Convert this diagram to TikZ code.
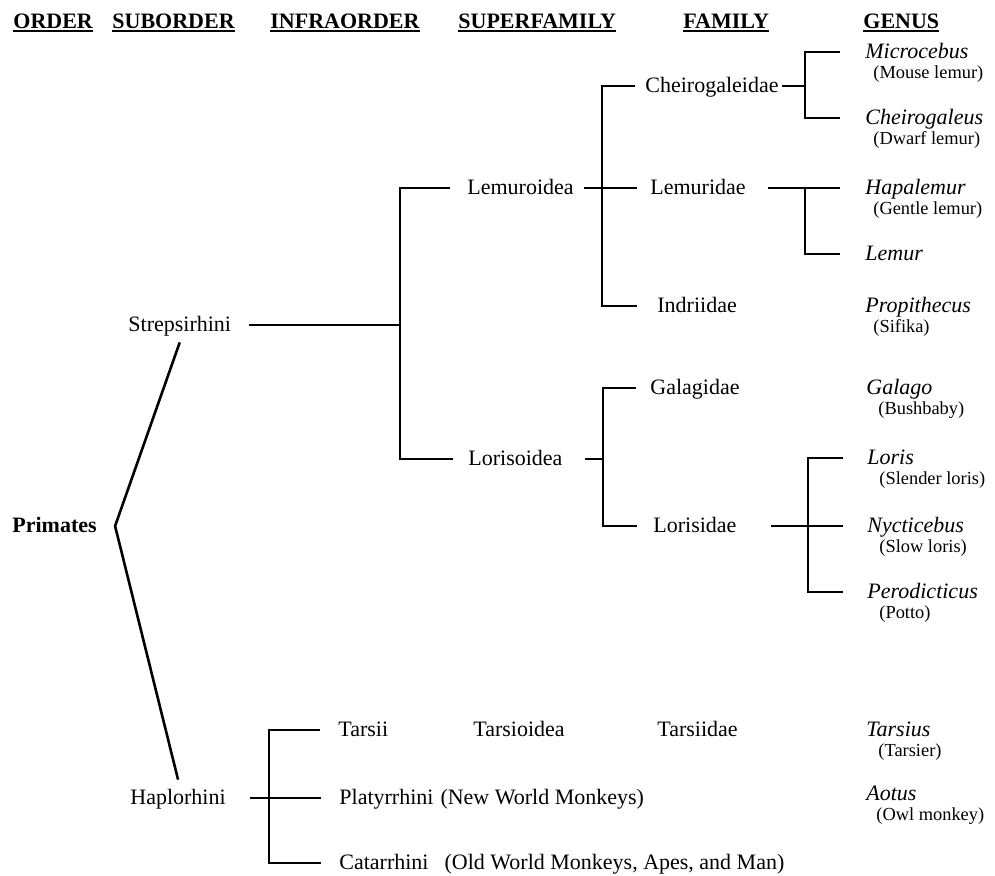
\documentclass[tikz,border=0pt]{standalone}
\usepackage{fontspec}
\setmainfont{Liberation Serif}
\usetikzlibrary{positioning}
\newcommand{\headul}[1]{\setbox0\hbox{#1}\rlap{\rule[-2pt]{\wd0}{0.9pt}}\box0}

\begin{document}
\begin{tikzpicture}[
  x=0.5pt, y=-0.5pt,
  head/.style={anchor=base west, inner sep=0pt, font=\fontsize{11}{13}\selectfont\bfseries},
  taxon/.style={anchor=west, inner sep=0pt, text height=8pt, text depth=2pt,
                font=\fontsize{11}{13}\selectfont},
  rootlbl/.style={taxon, font=\fontsize{11}{13}\selectfont\bfseries},
  genus/.style={taxon, font=\fontsize{11}{13}\selectfont\itshape},
  common/.style={inner sep=0pt, text height=6.8pt, text depth=2pt,
                 font=\fontsize{9.2}{11}\selectfont},
  branch/.style={line width=1pt},
  root/.style={line width=1.3pt, line join=round}
]
\useasboundingbox (0,0) rectangle (995,875);

% Column heads
\node[head] (hOrder) at (13,28) {\headul{ORDER}};
\node[head] (hSub) at (112,28) {\headul{SUBORDER}};
\node[head] (hInfra) at (270,28) {\headul{INFRAORDER}};
\node[head] (hSuper) at (458,28) {\headul{SUPERFAMILY}};
\node[head] (hFam) at (683,28) {\headul{FAMILY}};
\node[head] (hGenus) at (863,28) {\headul{GENUS}};

% Order, suborders, infraorders
\node[rootlbl] (primates) at (12,526) {Primates};
\node[taxon] (strep) at (128,325) {Strepsirhini};
\node[taxon] (haplo) at (130,798) {Haplorhini};
\node[taxon] (tarsii) at (338,730) {Tarsii};
\node[taxon] (platy) at (339,798) {Platyrrhini\hspace{3.5pt}(New World Monkeys)};
\node[taxon] (catar) at (339,863) {Catarrhini\hspace{8pt}(Old World Monkeys, Apes, and Man)};

% Superfamilies
\node[taxon] (lemuro) at (467,188) {Lemuroidea};
\node[taxon] (loriso) at (468,459) {Lorisoidea};
\node[taxon] (tarsioid) at (473,730) {Tarsioidea};

% Families
\node[taxon] (cheiro) at (645,86) {Cheirogaleidae};
\node[taxon] (lemurid) at (650,188) {Lemuridae};
\node[taxon] (indri) at (657,306) {Indriidae};
\node[taxon] (galagid) at (650,388) {Galagidae};
\node[taxon] (lorisid) at (653,526) {Lorisidae};
\node[taxon] (tarsiid) at (657,730) {Tarsiidae};

% Genera
\node[genus] (microc) at (865,52) {Microcebus};
\node[common, below right=1pt and 4pt of microc.south west] (cMicroc) {(Mouse lemur)};
\node[genus] (cheirog) at (865,118) {Cheirogaleus};
\node[common, below right=1pt and 4pt of cheirog.south west] (cCheirog) {(Dwarf lemur)};
\node[genus] (hapal) at (865,188) {Hapalemur};
\node[common, below right=1pt and 4pt of hapal.south west] (cHapal) {(Gentle lemur)};
\node[genus] (lemur) at (865,254) {Lemur};
\node[genus] (propith) at (865,306) {Propithecus};
\node[common, below right=1pt and 4pt of propith.south west] (cPropith) {(Sifika)};
\node[genus] (galago) at (866,388) {Galago};
\node[common, below right=1pt and 6pt of galago.south west] (cGalago) {(Bushbaby)};
\node[genus] (loris) at (867,458) {Loris};
\node[common, below right=1pt and 6pt of loris.south west] (cLoris) {(Slender loris)};
\node[genus] (nyct) at (867,526) {Nycticebus};
\node[common, below right=1pt and 6pt of nyct.south west] (cNyct) {(Slow loris)};
\node[genus] (perod) at (867,592) {Perodicticus};
\node[common, below right=1pt and 6pt of perod.south west] (cPerod) {(Potto)};
\node[genus] (tarsius) at (866,730) {Tarsius};
\node[common, below right=1pt and 6pt of tarsius.south west] (cTarsius) {(Tarsier)};
\node[genus] (aotus) at (866,794) {Aotus};
\node[common, below right=1pt and 5pt of aotus.south west] (cAotus) {(Owl monkey)};

% Branch points
\coordinate (apex) at ([xshift=9pt]primates.east);
\coordinate (bStrep) at (400,325);
\coordinate (bHaplo) at (269,798);
\coordinate (bLemuro) at (602,188);
\coordinate (bLoriso) at (603,459);
\coordinate (bCheiro) at (805,86);
\coordinate (bLemurid) at (805,188);
\coordinate (bLorisid) at (808,526);

% Primates
\draw[root] ([yshift=-3.5pt]strep.south) -- (apex) -- ([yshift=4pt]haplo.north);

% Strepsirhini
\draw[branch] ([xshift=9pt]strep.east) -- (bStrep);
\draw[branch] ([xshift=-8.5pt]lemuro.west) -| (bStrep) |- ([xshift=-7.5pt]loriso.west);

% Lemuroidea
\draw[branch] ([xshift=-5pt]cheiro.west) -| (bLemuro) |- ([xshift=-10pt]indri.west);
\draw[branch] ([xshift=5pt]lemuro.east) -- ([xshift=-6.5pt]lemurid.west);

% Lorisoidea
\draw[branch] ([xshift=11pt]loriso.east) -- (bLoriso);
\draw[branch] ([xshift=-7pt]galagid.west) -| (bLoriso) |- ([xshift=-8pt]lorisid.west);

% Cheirogaleidae
\draw[branch] ([xshift=1.5pt]cheiro.east) -- (bCheiro);
\draw[branch] ([xshift=-12.5pt]microc.west) -| (bCheiro) |- ([xshift=-12.5pt]cheirog.west);

% Lemuridae
\draw[branch] ([xshift=11pt]lemurid.east) -- ([xshift=-12.5pt]hapal.west);
\draw[branch] (bLemurid) |- ([xshift=-12.5pt]lemur.west);

% Lorisidae
\draw[branch] ([xshift=17pt]lorisid.east) -- ([xshift=-12pt]nyct.west);
\draw[branch] ([xshift=-12pt]loris.west) -| (bLorisid) |- ([xshift=-12pt]perod.west);

% Haplorhini
\draw[branch] ([xshift=12pt]haplo.east) -- ([xshift=-9pt]platy.west);
\draw[branch] ([xshift=-9pt]tarsii.west) -| (bHaplo) |- ([xshift=-9pt]catar.west);

\end{tikzpicture}
\end{document}
